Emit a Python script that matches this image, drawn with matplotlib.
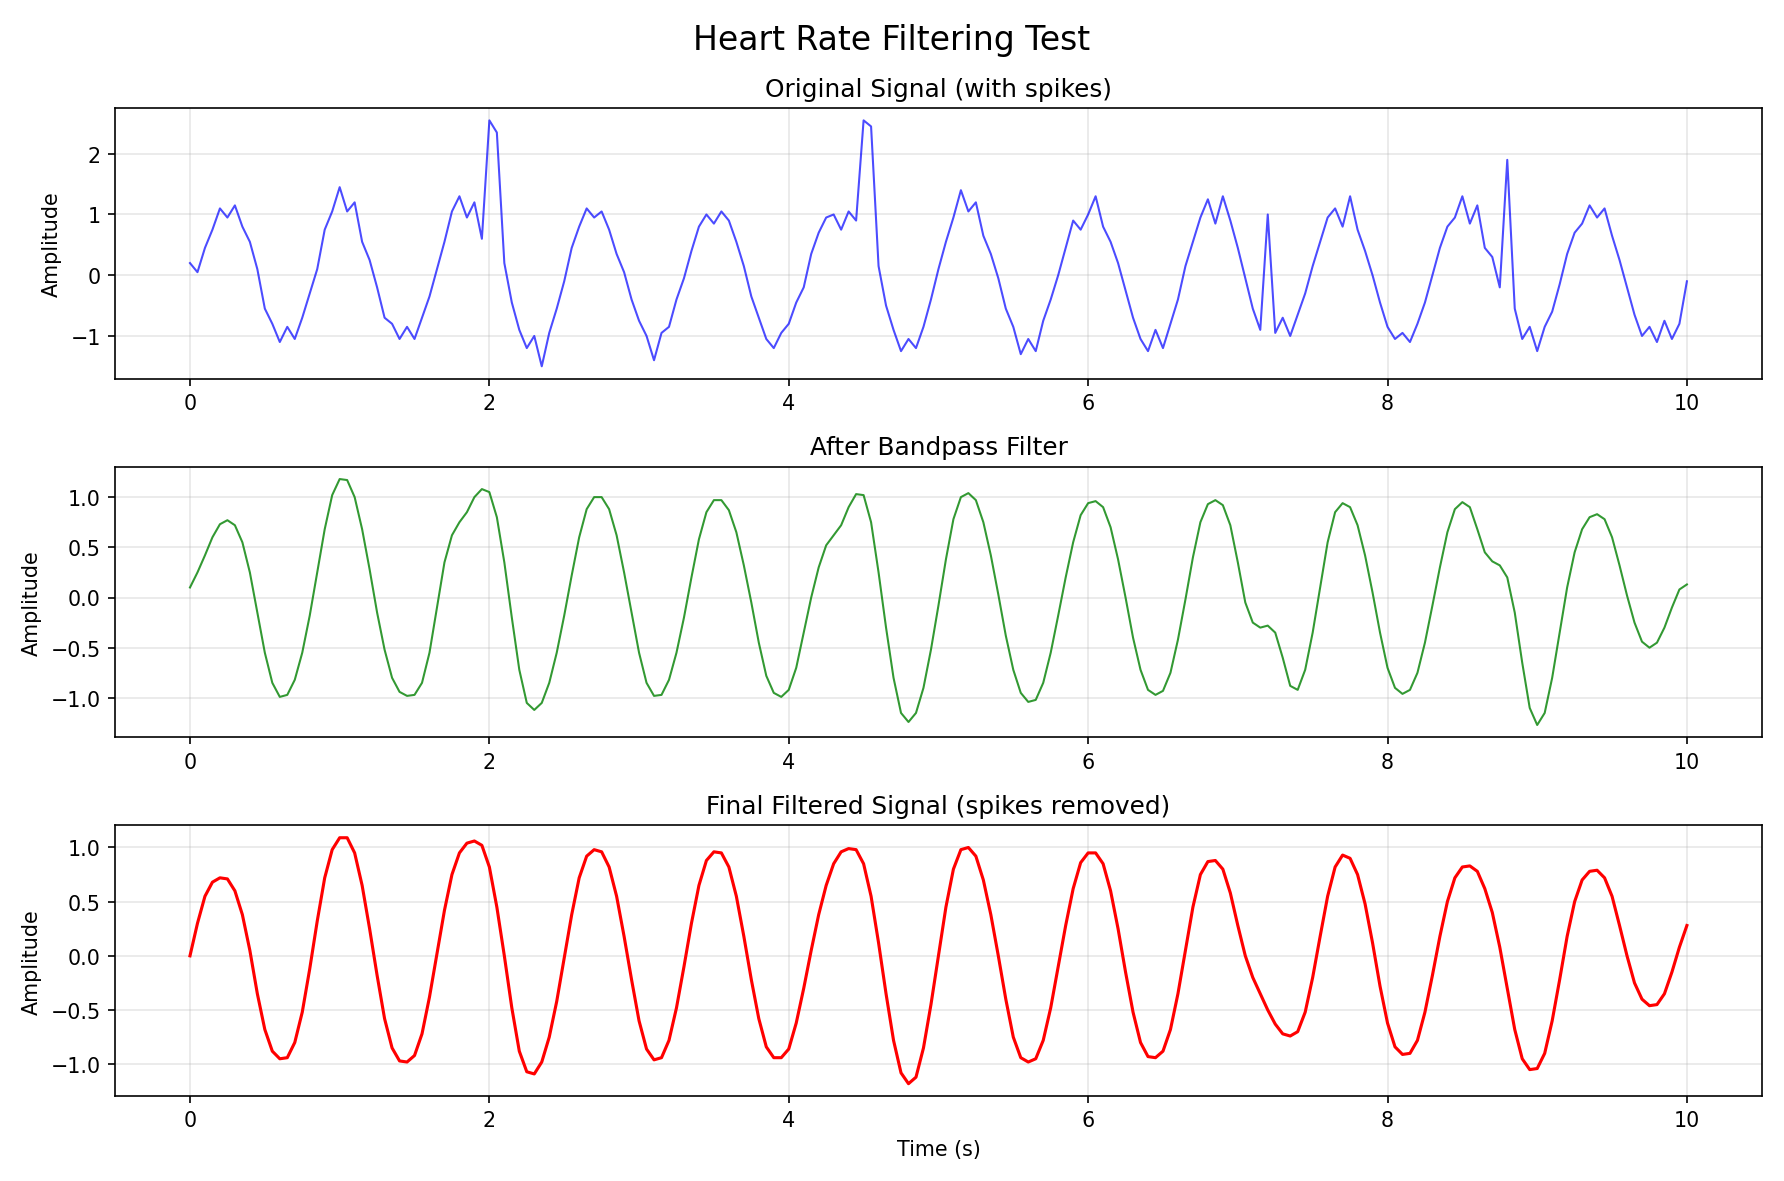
import numpy as np
import matplotlib.pyplot as plt

original = [
    0.20, 0.05, 0.45, 0.75, 1.10, 0.95, 1.15, 0.80, 0.55, 0.10,
    -0.55, -0.80, -1.10, -0.85, -1.05, -0.70, -0.30, 0.10, 0.75, 1.05,
    1.45, 1.05, 1.20, 0.55, 0.25, -0.20, -0.70, -0.80, -1.05, -0.85,
    -1.05, -0.70, -0.35, 0.10, 0.55, 1.05, 1.30, 0.95, 1.20, 0.60,
    2.55, 2.35, 0.20, -0.45, -0.90, -1.20, -1.00, -1.50, -0.95, -0.55,
    -0.10, 0.45, 0.80, 1.10, 0.95, 1.05, 0.75, 0.35, 0.05, -0.40,
    -0.75, -1.00, -1.40, -0.95, -0.85, -0.40, -0.05, 0.40, 0.80, 1.00,
    0.85, 1.05, 0.90, 0.55, 0.15, -0.35, -0.70, -1.05, -1.20, -0.95,
    -0.80, -0.45, -0.20, 0.35, 0.70, 0.95, 1.00, 0.75, 1.05, 0.90,
    2.55, 2.45, 0.15, -0.50, -0.90, -1.25, -1.05, -1.20, -0.85, -0.40,
    0.10, 0.55, 0.95, 1.40, 1.05, 1.20, 0.65, 0.35, -0.05, -0.55,
    -0.85, -1.30, -1.05, -1.25, -0.75, -0.40, 0.00, 0.45, 0.90, 0.75,
    1.00, 1.30, 0.80, 0.55, 0.20, -0.25, -0.70, -1.05, -1.25, -0.90,
    -1.20, -0.80, -0.40, 0.15, 0.55, 0.95, 1.25, 0.85, 1.30, 0.90,
    0.45, -0.05, -0.55, -0.90, 1.00, -0.95, -0.70, -1.00, -0.65, -0.30,
    0.15, 0.55, 0.95, 1.10, 0.80, 1.30, 0.75, 0.40, 0.00, -0.45,
    -0.85, -1.05, -0.95, -1.10, -0.80, -0.45, 0.00, 0.45, 0.80, 0.95,
    1.30, 0.85, 1.15, 0.45, 0.30, -0.20, 1.90, -0.55, -1.05, -0.85,
    -1.25, -0.85, -0.60, -0.15, 0.35, 0.70, 0.85, 1.15, 0.95, 1.10,
    0.65, 0.25, -0.20, -0.65, -1.00, -0.85, -1.10, -0.75, -1.05, -0.80,
    -0.10,
]

bandpass = [
    0.10, 0.25, 0.42, 0.60, 0.73, 0.77, 0.72, 0.55, 0.25, -0.15,
    -0.55, -0.85, -0.99, -0.97, -0.82, -0.55, -0.18, 0.25, 0.68, 1.02,
    1.18, 1.17, 1.00, 0.68, 0.28, -0.15, -0.52, -0.80, -0.94, -0.98,
    -0.97, -0.85, -0.55, -0.10, 0.35, 0.62, 0.75, 0.85, 1.00, 1.08,
    1.05, 0.80, 0.35, -0.20, -0.72, -1.05, -1.12, -1.05, -0.85, -0.55,
    -0.18, 0.22, 0.60, 0.88, 1.00, 1.00, 0.88, 0.62, 0.25, -0.15,
    -0.55, -0.85, -0.98, -0.97, -0.82, -0.55, -0.20, 0.20, 0.58, 0.85,
    0.97, 0.97, 0.87, 0.65, 0.32, -0.05, -0.45, -0.78, -0.95, -0.99,
    -0.92, -0.70, -0.35, 0.00, 0.30, 0.52, 0.62, 0.72, 0.90, 1.03,
    1.02, 0.75, 0.25, -0.30, -0.80, -1.15, -1.24, -1.15, -0.90, -0.52,
    -0.08, 0.38, 0.78, 1.00, 1.04, 0.97, 0.75, 0.42, 0.03, -0.38,
    -0.72, -0.95, -1.04, -1.02, -0.85, -0.55, -0.18, 0.20, 0.55, 0.82,
    0.94, 0.96, 0.90, 0.70, 0.38, 0.00, -0.40, -0.72, -0.92, -0.97,
    -0.93, -0.75, -0.42, -0.02, 0.40, 0.75, 0.93, 0.97, 0.92, 0.72,
    0.35, -0.05, -0.25, -0.30, -0.28, -0.35, -0.60, -0.88, -0.92, -0.72,
    -0.35, 0.10, 0.55, 0.85, 0.94, 0.90, 0.72, 0.42, 0.05, -0.35,
    -0.70, -0.90, -0.96, -0.92, -0.75, -0.45, -0.08, 0.30, 0.65, 0.88,
    0.95, 0.90, 0.68, 0.45, 0.36, 0.32, 0.20, -0.15, -0.65, -1.10,
    -1.27, -1.15, -0.80, -0.35, 0.10, 0.45, 0.68, 0.80, 0.83, 0.78,
    0.60, 0.32, 0.02, -0.25, -0.44, -0.50, -0.45, -0.30, -0.10, 0.08,
    0.13,
]

final = [
    0.00, 0.30, 0.55, 0.68, 0.72, 0.71, 0.60, 0.38, 0.05, -0.35,
    -0.68, -0.88, -0.95, -0.94, -0.80, -0.52, -0.12, 0.32, 0.72, 0.98,
    1.09, 1.09, 0.95, 0.65, 0.25, -0.18, -0.58, -0.85, -0.97, -0.98,
    -0.92, -0.72, -0.38, 0.02, 0.42, 0.75, 0.95, 1.04, 1.06, 1.02,
    0.82, 0.45, 0.00, -0.48, -0.88, -1.07, -1.09, -0.98, -0.75, -0.42,
    -0.02, 0.38, 0.72, 0.92, 0.98, 0.96, 0.82, 0.55, 0.18, -0.22,
    -0.60, -0.86, -0.96, -0.94, -0.78, -0.48, -0.10, 0.30, 0.65, 0.88,
    0.96, 0.95, 0.82, 0.55, 0.18, -0.22, -0.58, -0.84, -0.94, -0.94,
    -0.86, -0.62, -0.30, 0.05, 0.38, 0.65, 0.85, 0.96, 0.99, 0.98,
    0.85, 0.55, 0.12, -0.35, -0.78, -1.08, -1.18, -1.12, -0.85, -0.45,
    0.00, 0.45, 0.80, 0.98, 1.00, 0.92, 0.70, 0.38, 0.00, -0.40,
    -0.75, -0.94, -0.98, -0.95, -0.78, -0.48, -0.10, 0.28, 0.62, 0.86,
    0.95, 0.95, 0.85, 0.60, 0.25, -0.15, -0.52, -0.80, -0.93, -0.94,
    -0.88, -0.68, -0.35, 0.05, 0.45, 0.75, 0.87, 0.88, 0.80, 0.58,
    0.28, 0.00, -0.20, -0.35, -0.50, -0.63, -0.72, -0.74, -0.70, -0.52,
    -0.20, 0.18, 0.55, 0.82, 0.93, 0.90, 0.75, 0.48, 0.12, -0.28,
    -0.62, -0.84, -0.91, -0.90, -0.78, -0.52, -0.18, 0.18, 0.50, 0.72,
    0.82, 0.83, 0.78, 0.62, 0.40, 0.08, -0.30, -0.68, -0.95, -1.05,
    -1.04, -0.90, -0.60, -0.22, 0.18, 0.50, 0.70, 0.78, 0.79, 0.72,
    0.55, 0.28, 0.00, -0.25, -0.40, -0.46, -0.45, -0.35, -0.15, 0.08,
    0.28,
]

t = np.arange(len(bandpass)) * 0.05

fig, axes = plt.subplots(3, 1, figsize=(12, 7.95), dpi=148.67)
fig.suptitle('Heart Rate Filtering Test', fontsize=16)

axes[0].plot(t[:len(original)], original, color='blue', alpha=0.7, linewidth=1)
axes[0].set_title('Original Signal (with spikes)')

axes[1].plot(t, bandpass, color='green', alpha=0.8, linewidth=1)
axes[1].set_title('After Bandpass Filter')

axes[2].plot(t[:len(final)], final, color='red', linewidth=1.5)
axes[2].set_title('Final Filtered Signal (spikes removed)')
axes[2].set_xlabel('Time (s)')

for ax in axes:
    ax.set_ylabel('Amplitude')
    ax.grid(True, alpha=0.3)

plt.tight_layout()
plt.savefig('out.png')
